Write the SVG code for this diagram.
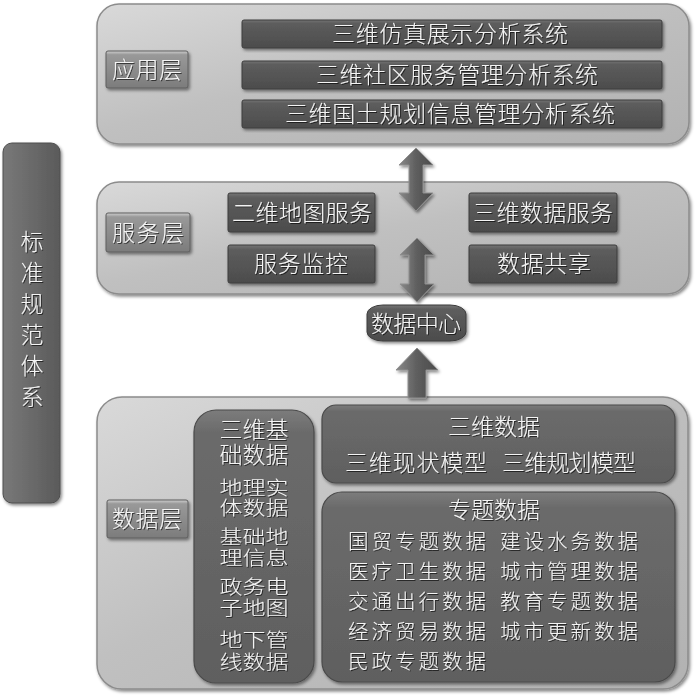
<svg xmlns="http://www.w3.org/2000/svg" width="700" height="699" viewBox="0 0 700 699">
<defs>
<linearGradient id="panelG" x1="0" y1="0" x2="1" y2="1">
<stop offset="0" stop-color="#d9d9d9"/><stop offset="0.45" stop-color="#c0c0c0"/><stop offset="1" stop-color="#b2b2b2"/>
</linearGradient>
<linearGradient id="darkG" x1="0" y1="0" x2="0" y2="1">
<stop offset="0" stop-color="#767676"/><stop offset="0.12" stop-color="#5d5d5d"/><stop offset="1" stop-color="#4c4c4c"/>
</linearGradient>
<linearGradient id="innerG" x1="0" y1="0" x2="0" y2="1">
<stop offset="0" stop-color="#7c7c7c"/><stop offset="0.08" stop-color="#6b6b6b"/><stop offset="1" stop-color="#5f5f5f"/>
</linearGradient>
<linearGradient id="labelG" x1="0" y1="0" x2="0" y2="1">
<stop offset="0" stop-color="#d0d0d0"/><stop offset="0.1" stop-color="#999"/><stop offset="1" stop-color="#7c7c7c"/>
</linearGradient>
<linearGradient id="arrowG" x1="0" y1="0" x2="1" y2="0">
<stop offset="0" stop-color="#8a8a8a"/><stop offset="0.5" stop-color="#5e5e5e"/><stop offset="1" stop-color="#4a4a4a"/>
</linearGradient>
<linearGradient id="barG" x1="0" y1="0" x2="1" y2="0">
<stop offset="0" stop-color="#787878"/><stop offset="0.5" stop-color="#6a6a6a"/><stop offset="1" stop-color="#5a5a5a"/>
</linearGradient>
<filter id="sh" x="-10%" y="-10%" width="120%" height="125%">
<feDropShadow dx="1.5" dy="2" stdDeviation="1.5" flood-color="#000" flood-opacity="0.45"/>
</filter>
<filter id="ts" x="-5%" y="-5%" width="110%" height="110%">
<feDropShadow dx="1" dy="1" stdDeviation="0.6" flood-color="#000" flood-opacity="0.6"/>
</filter>
</defs>
<style>
.panel{fill:url(#panelG);stroke:#8c8c8c;stroke-width:1.5;filter:url(#sh)}
.dark{fill:url(#darkG);stroke:#3c3c3c;stroke-width:1;filter:url(#sh)}
.inner{fill:url(#innerG);stroke:#4a4a4a;stroke-width:1.2;filter:url(#sh)}
.label{fill:url(#labelG);stroke:#5e5e5e;stroke-width:1;filter:url(#sh)}
.arrow{fill:url(#arrowG);stroke:#8f8f8f;stroke-width:1;filter:url(#sh)}
.t{font-family:"Noto Sans CJK SC","Noto Sans CJK TC",sans-serif;font-weight:300;font-size:23px;fill:#f4f4f4;text-anchor:middle;filter:url(#ts)}
.s{text-anchor:start}
.c{font-size:19px}
.r{font-size:20.5px}
</style>

<g id="standards">
<rect x="3" y="143" width="57" height="360" rx="9" fill="url(#barG)" stroke="#4e4e4e" stroke-width="1" filter="url(#sh)"/>
<text class="t" font-size="21"><tspan x="32" y="250">标</tspan><tspan x="32" y="281">准</tspan><tspan x="32" y="312">规</tspan><tspan x="32" y="343">范</tspan><tspan x="32" y="374">体</tspan><tspan x="32" y="405">系</tspan></text>
</g>

<g id="app-layer">
<rect class="panel" x="97" y="4" width="592" height="140" rx="22"/>
<g id="app-label">
<rect class="label" x="106" y="51" width="82" height="37" rx="2"/>
<text class="t" x="147" y="78" textLength="70">应用层</text>
</g>
<g id="app-sim">
<rect class="dark" x="242" y="20" width="420" height="28" rx="2"/>
<text class="t" x="450" y="42" textLength="236">三维仿真展示分析系统</text>
</g>
<g id="app-community">
<rect class="dark" x="242" y="61" width="420" height="28" rx="2"/>
<text class="t" x="457" y="83" textLength="282">三维社区服务管理分析系统</text>
</g>
<g id="app-land">
<rect class="dark" x="242" y="100" width="420" height="28" rx="2"/>
<text class="t" x="450" y="122" textLength="330">三维国土规划信息管理分析系统</text>
</g>
</g>

<g id="service-layer">
<rect class="panel" x="97" y="182" width="592" height="112" rx="22"/>
<g id="service-label">
<rect class="label" x="106" y="213" width="84" height="39" rx="2"/>
<text class="t" x="148" y="241" textLength="72">服务层</text>
</g>
<g id="svc-2d">
<rect class="dark" x="228" y="193" width="147" height="39" rx="2"/>
<text class="t" x="302" y="221" textLength="140">二维地图服务</text>
</g>
<g id="svc-3d">
<rect class="dark" x="469" y="193" width="148" height="39" rx="2"/>
<text class="t" x="543" y="221" textLength="140">三维数据服务</text>
</g>
<g id="svc-monitor">
<rect class="dark" x="228" y="245" width="147" height="38" rx="2"/>
<text class="t" x="301" y="272" textLength="94">服务监控</text>
</g>
<g id="svc-share">
<rect class="dark" x="469" y="245" width="148" height="38" rx="2"/>
<text class="t" x="544" y="272" textLength="94">数据共享</text>
</g>
</g>

<g id="data-layer">
<rect class="panel" x="97" y="397" width="591" height="292" rx="25"/>
<g id="data-label">
<rect class="label" x="107" y="500" width="81" height="38" rx="2"/>
<text class="t" x="147" y="527" textLength="70">数据层</text>
</g>
<g id="base-data">
<rect class="inner" x="194" y="410" width="120" height="273" rx="22"/>
<text class="t"><tspan x="254" y="438" textLength="69">三维基</tspan><tspan x="254" y="463" textLength="69">础数据</tspan></text>
<text class="t c"><tspan x="254" y="495" textLength="69" lengthAdjust="spacingAndGlyphs">地理实</tspan><tspan x="254" y="515" textLength="69" lengthAdjust="spacingAndGlyphs">体数据</tspan></text>
<text class="t c"><tspan x="254" y="544" textLength="69" lengthAdjust="spacingAndGlyphs">基础地</tspan><tspan x="254" y="565" textLength="69" lengthAdjust="spacingAndGlyphs">理信息</tspan></text>
<text class="t c"><tspan x="254" y="594" textLength="69" lengthAdjust="spacingAndGlyphs">政务电</tspan><tspan x="254" y="615" textLength="69" lengthAdjust="spacingAndGlyphs">子地图</tspan></text>
<text class="t c"><tspan x="254" y="647" textLength="69" lengthAdjust="spacingAndGlyphs">地下管</tspan><tspan x="254" y="669" textLength="69" lengthAdjust="spacingAndGlyphs">线数据</tspan></text>
</g>
<g id="data-3d">
<rect class="inner" x="322" y="405" width="353" height="78" rx="14"/>
<text class="t" x="494" y="435" textLength="92">三维数据</text>
<text class="t s" x="345" y="471" textLength="142">三维现状模型</text>
<text class="t s" x="502" y="471" textLength="134">三维规划模型</text>
</g>
<g id="data-thematic">
<rect class="inner" x="322" y="492" width="353" height="190" rx="20"/>
<text class="t" x="494" y="518" font-size="22" textLength="92">专题数据</text>
<text class="t s r"><tspan x="348" y="549" textLength="138">国贸专题数据</tspan><tspan x="348" y="579" textLength="138">医疗卫生数据</tspan><tspan x="348" y="609" textLength="138">交通出行数据</tspan><tspan x="348" y="639" textLength="138">经济贸易数据</tspan><tspan x="348" y="669" textLength="138">民政专题数据</tspan></text>
<text class="t s r"><tspan x="500" y="549" textLength="138">建设水务数据</tspan><tspan x="500" y="579" textLength="138">城市管理数据</tspan><tspan x="500" y="609" textLength="138">教育专题数据</tspan><tspan x="500" y="639" textLength="138">城市更新数据</tspan></text>
</g>
</g>

<g id="data-center">
<rect class="dark" x="367" y="305" width="99" height="36" rx="16" ry="9"/>
<text class="t" x="416" y="332" font-size="22" textLength="90">数据中心</text>
</g>

<g id="connectors">
<path class="arrow" d="M416,148 L433,165 L423,165 L423,193 L433,193 L416,211 L399,193 L409,193 L409,165 L399,165 Z"/>
<path class="arrow" d="M417,238 L434,255 L425,255 L425,284 L434,284 L417,302 L400,284 L409,284 L409,255 L400,255 Z"/>
<path class="arrow" d="M417,348 L438,370 L426,370 L426,398 L408,398 L408,370 L396,370 Z"/>
</g>
</svg>
